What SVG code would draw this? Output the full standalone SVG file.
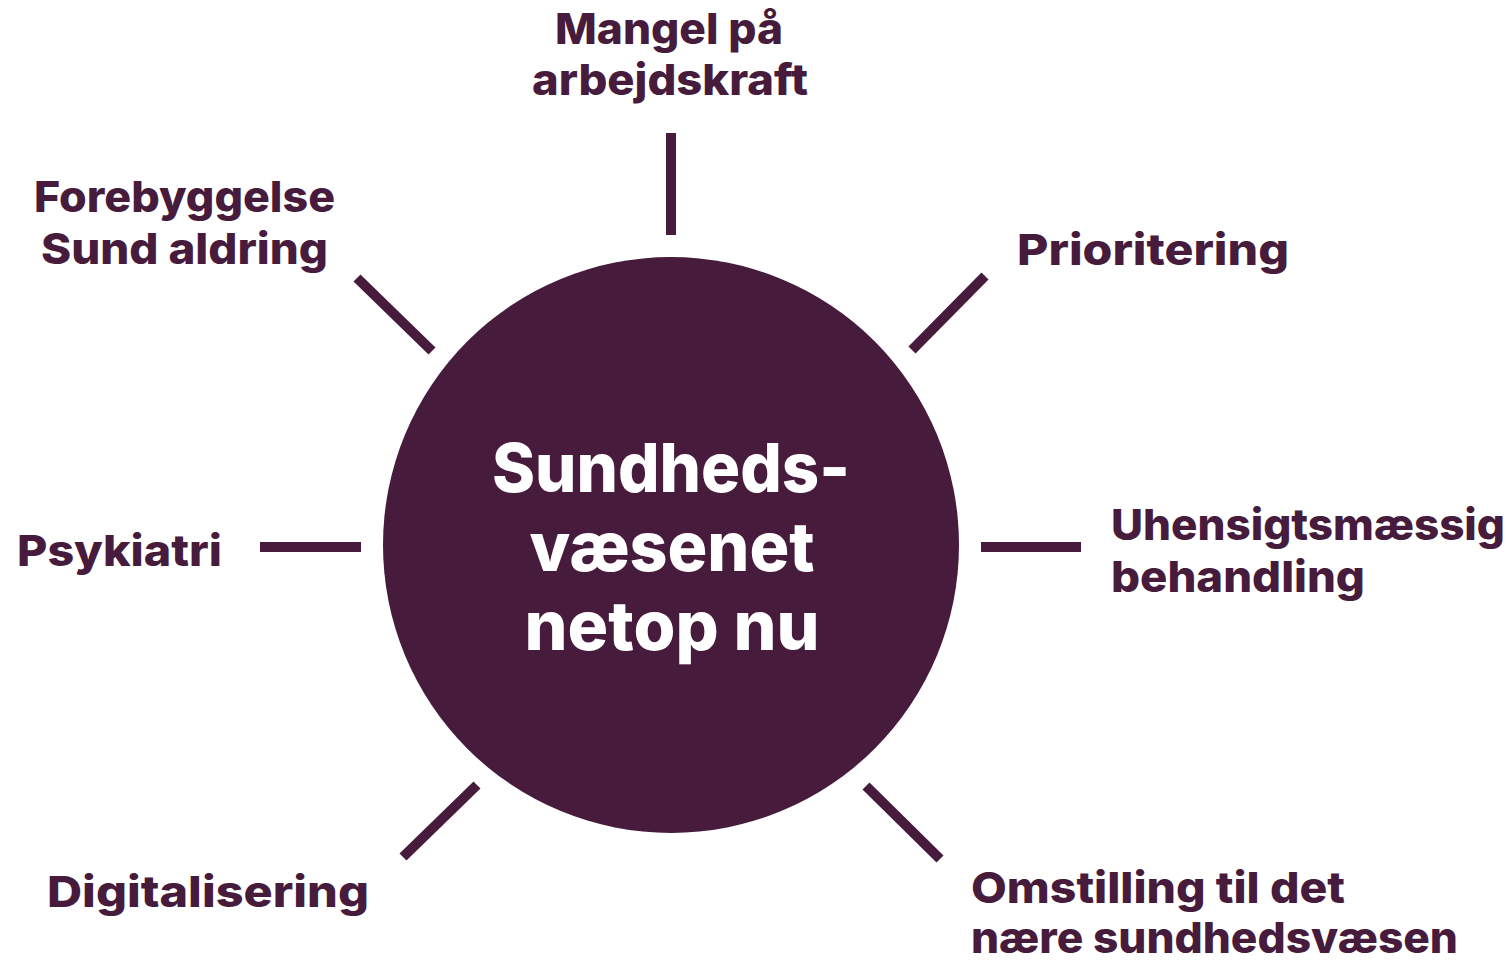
<svg xmlns="http://www.w3.org/2000/svg" width="1512" height="961" viewBox="0 0 1512 961">
<style>
.lbl{font-family:Inter,"Open Sans","Liberation Sans",sans-serif;font-weight:800;font-size:43px;fill:#461B3C}
.ctr{font-family:Inter,"Open Sans","Liberation Sans",sans-serif;font-weight:800;font-size:68px;fill:#ffffff;text-anchor:middle}
.con{stroke:#461B3C;stroke-width:10;fill:none}
</style>
<rect width="1512" height="961" fill="#ffffff"/>
<g id="center">
<circle cx="671" cy="545" r="288" fill="#461B3C"/>
<text class="ctr" x="671" y="492" textLength="358" lengthAdjust="spacingAndGlyphs">Sundheds-</text>
<text class="ctr" x="672" y="571" textLength="285" lengthAdjust="spacingAndGlyphs">væsenet</text>
<text class="ctr" x="672" y="650" textLength="295" lengthAdjust="spacingAndGlyphs">netop nu</text>
</g>
<g id="connectors">
<line class="con" x1="671" y1="133" x2="671" y2="235"/>
<line class="con" x1="357" y1="278" x2="432" y2="351"/>
<line class="con" x1="985" y1="276" x2="912" y2="350"/>
<line class="con" x1="260" y1="547" x2="361" y2="547"/>
<line class="con" x1="981" y1="547" x2="1081" y2="547"/>
<line class="con" x1="403" y1="857" x2="477" y2="785"/>
<line class="con" x1="866" y1="786" x2="940" y2="859"/>
</g>
<g id="n-mangel"><text class="lbl" x="555" y="44" textLength="228" lengthAdjust="spacingAndGlyphs">Mangel på</text><text class="lbl" x="532" y="95" textLength="276" lengthAdjust="spacingAndGlyphs">arbejdskraft</text></g>
<g id="n-forebyggelse"><text class="lbl" x="34" y="212" textLength="301" lengthAdjust="spacingAndGlyphs">Forebyggelse</text><text class="lbl" x="41" y="264" textLength="287" lengthAdjust="spacingAndGlyphs">Sund aldring</text></g>
<g id="n-prioritering"><text class="lbl" x="1017" y="265" textLength="272" lengthAdjust="spacingAndGlyphs">Prioritering</text></g>
<g id="n-psykiatri"><text class="lbl" x="17" y="566" textLength="205" lengthAdjust="spacingAndGlyphs">Psykiatri</text></g>
<g id="n-uhensigts"><text class="lbl" x="1111" y="540" textLength="394" lengthAdjust="spacingAndGlyphs">Uhensigtsmæssig</text><text class="lbl" x="1111" y="592" textLength="254" lengthAdjust="spacingAndGlyphs">behandling</text></g>
<g id="n-digital"><text class="lbl" x="47" y="907" textLength="322" lengthAdjust="spacingAndGlyphs">Digitalisering</text></g>
<g id="n-omstilling"><text class="lbl" x="971" y="903" textLength="374" lengthAdjust="spacingAndGlyphs">Omstilling til det</text><text class="lbl" x="971" y="953" textLength="487" lengthAdjust="spacingAndGlyphs">nære sundhedsvæsen</text></g>
</svg>
